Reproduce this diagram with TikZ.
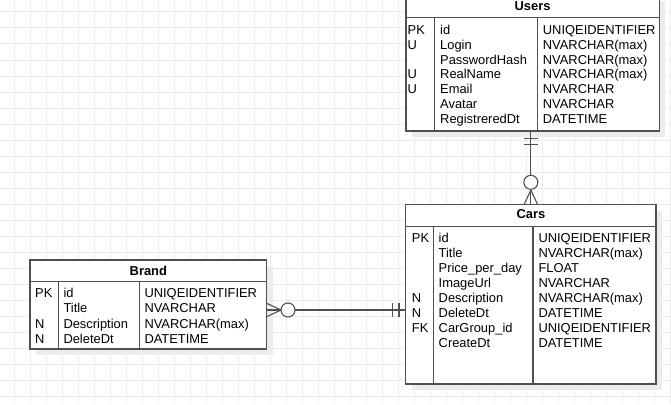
\documentclass[tikz,border=0pt]{standalone}
\usepackage{fontspec}
\setmainfont{Liberation Sans}
\usetikzlibrary{calc,shadows}
\definecolor{gridc}{RGB}{236,236,236}
\definecolor{linec}{RGB}{80,80,80}
\definecolor{shadowc}{RGB}{236,236,236}
\tikzset{
  tbl/.style={draw=linec, fill=white, line width=1.1pt, inner sep=0pt, rectangle,
    drop shadow={opacity=1, fill=shadowc, shadow xshift=6pt, shadow yshift=-6pt}},
  sep/.style={draw=linec, line width=1.1pt},
  conn/.style={draw=linec, line width=1.1pt},
  txt/.style={anchor=base west, inner sep=0pt, text=black},
  ttl/.style={anchor=base, inner sep=0pt, text=black, font=\fontsize{12.9}{15}\selectfont\bfseries},
}
\begin{document}
\begin{tikzpicture}[x=1pt,y=-1pt,font=\fontsize{12.9}{15}\selectfont]
\useasboundingbox (0,0) rectangle (671,404);
\clip (0,0) rectangle (671,404);
\fill[white] (0,0) rectangle (671,404);
% grid
\foreach \x in {14,30,...,670} \draw[gridc, line width=1pt] (\x,0) -- (\x,404);
\foreach \y in {12,28,...,404} \draw[gridc, line width=1pt] (0,\y) -- (671,\y);

% ---------- Users ----------
\node[tbl, minimum width=253.3pt, minimum height=135.7pt] (users) at (532.65,63.15) {};
\draw[sep] (406,17.3) -- (659.3,17.3);
\draw[sep] (434.3,17.3) -- (434.3,131);
\draw[sep] (537.3,17.3) -- (537.3,131);
\node[ttl] (userst) at (532.6,10.7) {Users};
\foreach [count=\i from 0] \k/\n/\t in {PK/id/UNIQEIDENTIFIER, U/Login/NVARCHAR(max), /PasswordHash/NVARCHAR(max), U/RealName/NVARCHAR(max), U/Email/NVARCHAR, /Avatar/NVARCHAR, /RegistreredDt/DATETIME} {
  \node[txt] (uk\i) at (407.5,34.3+14.85*\i) {\k};
  \node[txt] (un\i) at (440,34.3+14.85*\i) {\n};
  \node[txt] (ut\i) at (542.7,34.3+14.85*\i) {\t};
}

% ---------- Cars ----------
\node[tbl, minimum width=250.3pt, minimum height=179.3pt] (cars) at (530.85,294.35) {};
\draw[sep] (405.7,226.7) -- (656,226.7);
\draw[sep] (433.3,226.7) -- (433.3,384);
\draw[sep] (533,226.7) -- (533,384);
\node[ttl] (carst) at (530.85,218.7) {Cars};
\foreach [count=\i from 0] \k/\n/\t in {PK/id/UNIQEIDENTIFIER, /Title/NVARCHAR(max), /Price\_per\_day/FLOAT, /ImageUrl/NVARCHAR, N/Description/NVARCHAR(max), N/DeleteDt/DATETIME, FK/CarGroup\_id/UNIQEIDENTIFIER, /CreateDt/DATETIME} {
  \node[txt] (ck\i) at (411.7,242+15*\i) {\k};
  \node[txt] (cn\i) at (438.5,242+15*\i) {\n};
  \node[txt] (ct\i) at (538.3,242+15*\i) {\t};
}

% ---------- Brand ----------
\node[tbl, minimum width=236.7pt, minimum height=89pt] (brand) at (148.35,304.5) {};
\draw[sep] (30,281.7) -- (266.7,281.7);
\draw[sep] (58.3,281.7) -- (58.3,349);
\draw[sep] (139.3,281.7) -- (139.3,349);
\node[ttl] (brandt) at (148.35,275.7) {Brand};
\foreach [count=\i from 0] \k/\n/\t in {PK/id/UNIQEIDENTIFIER, /Title/NVARCHAR, N/Description/NVARCHAR(max), N/DeleteDt/DATETIME} {
  \node[txt] (bk\i) at (35,297.7+15.2*\i) {\k};
  \node[txt] (bn\i) at (63.3,297.7+15.2*\i) {\n};
  \node[txt] (bt\i) at (144.3,297.7+15.2*\i) {\t};
}

% ---------- Users -> Cars ----------
\draw[conn] (cars.north |- users.south) -- (cars.north);
\draw[conn] (524,138.3) -- (537.7,138.3);
\draw[conn] (524,144.3) -- (537.7,144.3);
\draw[conn] (524,204.7) -- (530.85,190) -- (537.7,204.7);
\draw[conn, fill=white] (530.85,182.3) circle[radius=7pt];

% ---------- Brand -> Cars ----------
\coordinate (bcy) at (0,310);
\draw[conn] (brand.east |- bcy) -- (cars.west |- bcy);
\draw[conn] (266.7,303.3) -- (281,310) -- (266.7,316.7);
\draw[conn, fill=white] (288,310) circle[radius=7pt];
\draw[conn] (392.3,303.3) -- (392.3,316.7);
\draw[conn] (399,303.3) -- (399,316.7);
\end{tikzpicture}
\end{document}
